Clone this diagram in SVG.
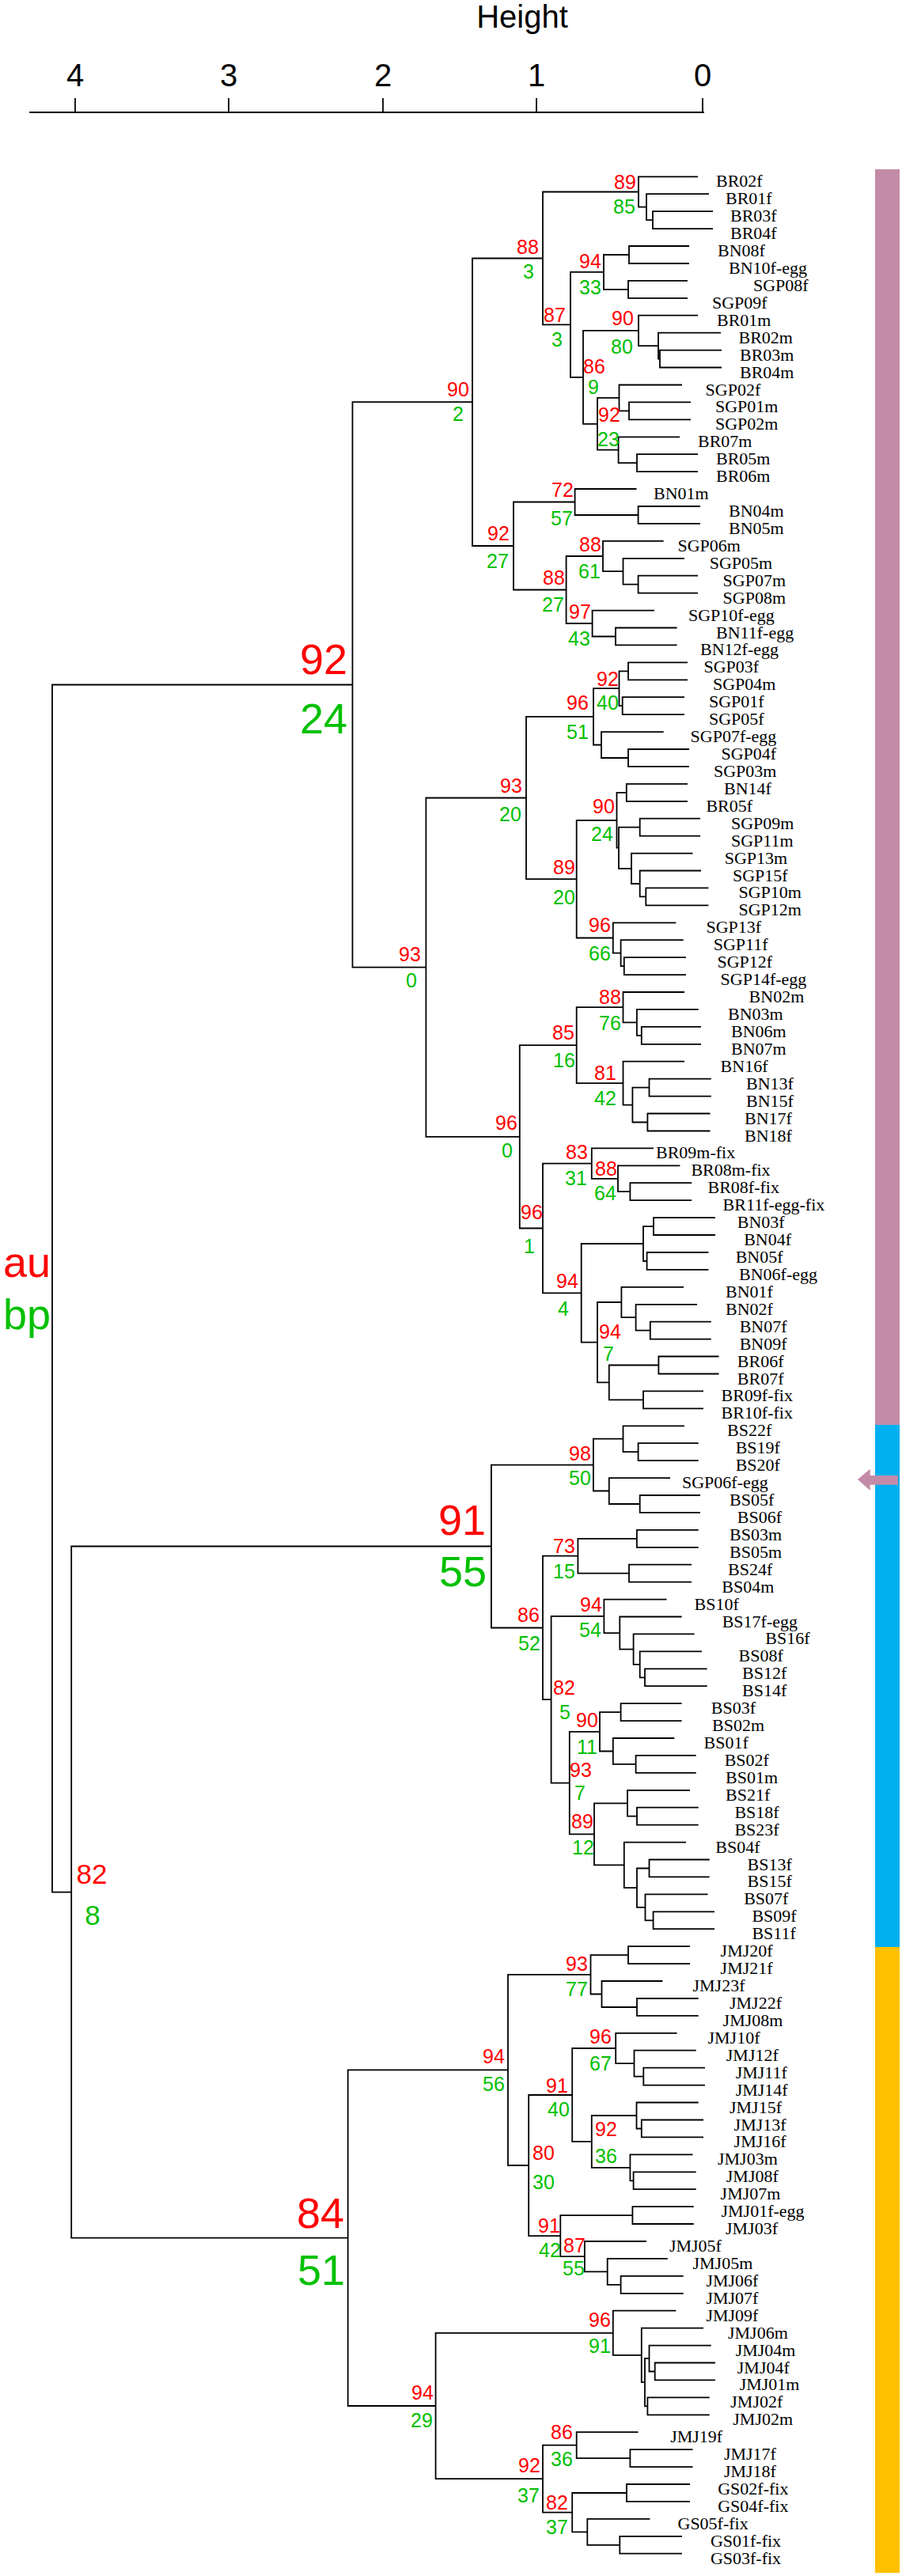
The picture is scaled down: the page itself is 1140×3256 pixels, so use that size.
<svg xmlns="http://www.w3.org/2000/svg" width="1140" height="3256" viewBox="0 0 1140 3256">
<style>
.e{fill:none;stroke:#000;stroke-width:1.8}
.lf{font-family:"Liberation Serif","Times New Roman",serif;font-size:22px;fill:#000}
.au{font-family:"Liberation Sans",Arial,sans-serif;font-size:25px;fill:#f00;text-anchor:middle}
.bp{font-family:"Liberation Sans",Arial,sans-serif;font-size:25px;fill:#00c000;text-anchor:middle}
.big{font-size:54px}
.mid{font-size:35px}
.ax{font-family:"Liberation Sans",Arial,sans-serif;font-size:40px;fill:#000;text-anchor:middle}
</style>
<rect width="1140" height="3256" fill="#fff"/>
<g id="axis">
<text class="ax" x="660" y="35">Height</text>
<path class="e" d="M37 142H890M95 124V142M289 124V142M484 124V142M678 124V142M888 124V142" stroke-width="2"/>
<text class="ax" x="95" y="109">4</text>
<text class="ax" x="289" y="109">3</text>
<text class="ax" x="484" y="109">2</text>
<text class="ax" x="678" y="109">1</text>
<text class="ax" x="888" y="109">0</text>
</g>
<g id="groups">
<rect x="1106" y="214" width="31" height="1587" fill="#c38ba8"/>
<rect x="1106" y="1801" width="31" height="660" fill="#00b0f0"/>
<rect x="1106" y="2461" width="31" height="791" fill="#ffc000"/>
<polygon points="1084,1870 1099.7,1856.7 1099.7,1865 1135,1865 1135,1876.7 1099.7,1876.7 1099.7,1884" fill="#c38ba8"/>
</g>
<g id="legend">
<text class="au" x="4" y="1614" style="text-anchor:start;font-size:54px">au</text>
<text class="bp" x="4" y="1680" style="text-anchor:start;font-size:54px">bp</text>
</g>
<g id="connectors">
<path class="e" d="M901 267.2H825V289.1H901"/>
<path class="e" d="M896 245.2H817V278.2H825"/>
<path class="e" d="M882 223.3H807V261.7H817"/>
<path class="e" d="M871 311H795V333H871"/>
<path class="e" d="M869 354.9H794V376.8H869"/>
<path class="e" d="M795 322H763V365.9H794"/>
<path class="e" d="M912 442.6H834V464.5H912"/>
<path class="e" d="M911 420.7H832V453.6H834"/>
<path class="e" d="M882 398.7H807V437.1H832"/>
<path class="e" d="M873 508.4H795V530.3H873"/>
<path class="e" d="M862 486.5H782.5V519.4H795"/>
<path class="e" d="M882 574.2H805V596.1H882"/>
<path class="e" d="M859 552.3H781.6V585.2H805"/>
<path class="e" d="M782.5 502.9H755V568.7H781.6"/>
<path class="e" d="M807 417.9H737V535.8H755"/>
<path class="e" d="M763 343.9H721V476.9H737"/>
<path class="e" d="M807 242.5H686V410.4H721"/>
<path class="e" d="M885 640H806.6V661.9H885"/>
<path class="e" d="M804.5 618H726.6V651H806.6"/>
<path class="e" d="M882 727.7H806.6V749.6H882"/>
<path class="e" d="M865 705.8H787.5V738.7H806.6"/>
<path class="e" d="M838.7 683.8H762V722.2H787.5"/>
<path class="e" d="M855.6 793.5H778V815.4H855.6"/>
<path class="e" d="M827 771.6H748.6V804.5H778"/>
<path class="e" d="M762 703H715.6V788H748.6"/>
<path class="e" d="M726.6 634.5H649V745.5H715.6"/>
<path class="e" d="M686 326.5H597V690H649"/>
<path class="e" d="M869 837.3H794V859.3H869"/>
<path class="e" d="M865 881.2H786.7V903.1H865"/>
<path class="e" d="M794 848.3H782.5V892.2H786.7"/>
<path class="e" d="M871 947H794V968.9H871"/>
<path class="e" d="M838.7 925.1H760V958H794"/>
<path class="e" d="M782.5 870.2H750V941.5H760"/>
<path class="e" d="M869 990.9H791.8V1012.8H869"/>
<path class="e" d="M885 1034.7H808.7V1056.6H885"/>
<path class="e" d="M895.4 1122.4H816.3V1144.4H895.4"/>
<path class="e" d="M886 1100.5H808.7V1133.4H816.3"/>
<path class="e" d="M875.5 1078.6H798V1117H808.7"/>
<path class="e" d="M808.7 1045.7H782V1097.8H798"/>
<path class="e" d="M791.8 1001.9H779.5V1071.7H782"/>
<path class="e" d="M867 1210.2H788.8V1232.1H867"/>
<path class="e" d="M863.7 1188.2H784.6V1221.2H788.8"/>
<path class="e" d="M854.4 1166.3H774.8V1204.7H784.6"/>
<path class="e" d="M779.5 1036.8H728.7V1185.5H774.8"/>
<path class="e" d="M750 905.9H665V1111.2H728.7"/>
<path class="e" d="M886 1297.9H810.8V1319.8H886"/>
<path class="e" d="M882.7 1275.9H804.9V1308.9H810.8"/>
<path class="e" d="M865 1254H787.5V1292.4H804.9"/>
<path class="e" d="M898.8 1363.7H820.5V1385.6H898.8"/>
<path class="e" d="M897.5 1407.5H818.4V1429.5H897.5"/>
<path class="e" d="M820.5 1374.7H799.4V1418.5H818.4"/>
<path class="e" d="M865 1341.7H787.5V1396.6H799.4"/>
<path class="e" d="M787.5 1273.2H728.7V1369.2H787.5"/>
<path class="e" d="M874.2 1495.2H796.4V1517.2H874.2"/>
<path class="e" d="M859.4 1473.3H781V1506.2H796.4"/>
<path class="e" d="M826 1451.4H747.8V1489.8H781"/>
<path class="e" d="M903.9 1539.1H826V1561H903.9"/>
<path class="e" d="M895.4 1583H817.6V1604.9H895.4"/>
<path class="e" d="M826 1550.1H813V1594H817.6"/>
<path class="e" d="M898.8 1670.7H821.8V1692.6H898.8"/>
<path class="e" d="M881 1648.8H803.6V1681.7H821.8"/>
<path class="e" d="M864 1626.8H785.4V1665.2H803.6"/>
<path class="e" d="M908.5 1714.5H832.4V1736.5H908.5"/>
<path class="e" d="M889 1758.4H813V1780.3H889"/>
<path class="e" d="M832.4 1725.5H769.8V1769.4H813"/>
<path class="e" d="M785.4 1646H755V1747.4H769.8"/>
<path class="e" d="M813 1572H734.7V1696.7H755"/>
<path class="e" d="M747.8 1470.6H686V1634.4H734.7"/>
<path class="e" d="M728.7 1321.2H656.8V1552.5H686"/>
<path class="e" d="M665 1008.5H538.4V1436.9H656.8"/>
<path class="e" d="M597 508.2H445.5V1222.7H538.4"/>
<path class="e" d="M882.7 1824.2H806.6V1846.1H882.7"/>
<path class="e" d="M865 1802.3H787.5V1835.2H806.6"/>
<path class="e" d="M885 1890H808.7V1911.9H885"/>
<path class="e" d="M847 1868.1H769.8V1901H808.7"/>
<path class="e" d="M787.5 1818.7H749.9V1884.5H769.8"/>
<path class="e" d="M882.7 1933.8H804.9V1955.8H882.7"/>
<path class="e" d="M874 1977.7H795V1999.6H874"/>
<path class="e" d="M804.9 1944.8H730.4V1988.7H795"/>
<path class="e" d="M893.7 2109.3H815V2131.2H893.7"/>
<path class="e" d="M887 2087.4H808.7V2120.3H815"/>
<path class="e" d="M877.6 2065.4H800.6V2103.8H808.7"/>
<path class="e" d="M861.6 2043.5H783.3V2084.6H800.6"/>
<path class="e" d="M842.5 2021.6H763.4V2064.1H783.3"/>
<path class="e" d="M861.6 2153.1H784.6V2175.1H861.6"/>
<path class="e" d="M879.7 2218.9H803.6V2240.9H879.7"/>
<path class="e" d="M852.3 2197H774.8V2229.9H803.6"/>
<path class="e" d="M784.6 2164.1H758V2213.5H774.8"/>
<path class="e" d="M882.7 2284.7H805V2306.7H882.7"/>
<path class="e" d="M872 2262.8H793V2295.7H805"/>
<path class="e" d="M896.7 2350.5H820.5V2372.4H896.7"/>
<path class="e" d="M903 2416.3H825.6V2438.2H903"/>
<path class="e" d="M894.5 2394.4H815.5V2427.3H825.6"/>
<path class="e" d="M820.5 2361.5H805V2410.8H815.5"/>
<path class="e" d="M867 2328.6H788.8V2386.1H805"/>
<path class="e" d="M793 2279.3H751V2357.4H788.8"/>
<path class="e" d="M758 2188.8H719.8V2318.3H751"/>
<path class="e" d="M763.4 2042.8H696.6V2253.6H719.8"/>
<path class="e" d="M730.4 1966.7H686V2148.2H696.6"/>
<path class="e" d="M749.9 1851.6H620.9V2057.5H686"/>
<path class="e" d="M872 2460.2H794V2482.1H872"/>
<path class="e" d="M882.7 2526H805V2547.9H882.7"/>
<path class="e" d="M837.4 2504H760.5V2537H805"/>
<path class="e" d="M794 2471.2H746.5V2520.5H760.5"/>
<path class="e" d="M891 2613.7H813.3V2635.6H891"/>
<path class="e" d="M879.7 2591.7H801.5V2624.7H813.3"/>
<path class="e" d="M855.6 2569.8H778.2V2608.2H801.5"/>
<path class="e" d="M889 2679.5H810.8V2701.4H889"/>
<path class="e" d="M882.7 2657.5H804.5V2690.5H810.8"/>
<path class="e" d="M879.7 2745.3H800.6V2767.2H879.7"/>
<path class="e" d="M875.5 2723.3H796.4V2756.3H800.6"/>
<path class="e" d="M804.5 2674H747.8V2739.8H796.4"/>
<path class="e" d="M778.2 2589H723.2V2706.9H747.8"/>
<path class="e" d="M876.8 2789.1H799.4V2811H876.8"/>
<path class="e" d="M863.7 2876.8H784.6V2898.8H863.7"/>
<path class="e" d="M843.8 2854.9H767.7V2887.8H784.6"/>
<path class="e" d="M817 2833H738.9V2871.4H767.7"/>
<path class="e" d="M799.4 2800.1H708.3V2852.2H738.9"/>
<path class="e" d="M723.2 2648H668.2V2826.1H708.3"/>
<path class="e" d="M746.5 2495.8H642V2737H668.2"/>
<path class="e" d="M903.9 2986.5H827.7V3008.4H903.9"/>
<path class="e" d="M898.8 2964.6H820.5V2997.5H827.7"/>
<path class="e" d="M896.7 3030.3H818.4V3052.3H896.7"/>
<path class="e" d="M820.5 2981H815V3041.3H818.4"/>
<path class="e" d="M889 2942.6H810.8V3011.2H815"/>
<path class="e" d="M854.4 2920.7H774.8V2976.9H810.8"/>
<path class="e" d="M875.5 3096.1H796.4V3118.1H875.5"/>
<path class="e" d="M806.6 3074.2H728.7V3107.1H796.4"/>
<path class="e" d="M872 3140H792V3161.9H872"/>
<path class="e" d="M862 3205.8H783.3V3227.7H862"/>
<path class="e" d="M821.4 3183.9H742.3V3216.8H783.3"/>
<path class="e" d="M792 3151H723.2V3200.3H742.3"/>
<path class="e" d="M728.7 3090.7H686V3175.6H723.2"/>
<path class="e" d="M774.8 2948.8H550.6V3133.1H686"/>
<path class="e" d="M642 2616.4H439.7V3041H550.6"/>
<path class="e" d="M620.9 1954.5H90.2V2828.7H439.7"/>
<path class="e" d="M445.5 865.5H66V2391.6H90.2"/>
</g>
<g id="support">
<text class="au" x="790" y="239">89</text><text class="bp" x="789" y="270">85</text>
<text class="au" x="667" y="321">88</text><text class="bp" x="668" y="352">3</text>
<text class="au" x="746" y="339">94</text><text class="bp" x="746" y="372">33</text>
<text class="au" x="701" y="407">87</text><text class="bp" x="704" y="438">3</text>
<text class="au" x="787" y="411">90</text><text class="bp" x="786" y="447">80</text>
<text class="au" x="751" y="472">86</text><text class="bp" x="750" y="498">9</text>
<text class="au" x="579" y="501">90</text><text class="bp" x="579" y="532">2</text>
<text class="au" x="770" y="533">92</text><text class="bp" x="769" y="564">23</text>
<text class="au" x="711" y="628">72</text><text class="bp" x="710" y="664">57</text>
<text class="au" x="630" y="683">92</text><text class="bp" x="629" y="718">27</text>
<text class="au" x="746" y="697">88</text><text class="bp" x="745" y="731">61</text>
<text class="au" x="700" y="739">88</text><text class="bp" x="699" y="773">27</text>
<text class="au" x="733" y="782">97</text><text class="bp" x="732" y="816">43</text>
<text class="au" x="768" y="867">92</text><text class="bp" x="768" y="897">40</text>
<text class="au" x="730" y="897">96</text><text class="bp" x="730" y="934">51</text>
<text class="au" x="646" y="1002">93</text><text class="bp" x="645" y="1038">20</text>
<text class="au" x="763" y="1028">90</text><text class="bp" x="761" y="1063">24</text>
<text class="au" x="713" y="1105">89</text><text class="bp" x="713" y="1143">20</text>
<text class="au" x="758" y="1178">96</text><text class="bp" x="758" y="1214">66</text>
<text class="au" x="518" y="1215">93</text><text class="bp" x="520" y="1248">0</text>
<text class="au" x="771" y="1269">88</text><text class="bp" x="771" y="1302">76</text>
<text class="au" x="712" y="1314">85</text><text class="bp" x="713" y="1349">16</text>
<text class="au" x="765" y="1365">81</text><text class="bp" x="765" y="1397">42</text>
<text class="au" x="640" y="1428">96</text><text class="bp" x="641" y="1463">0</text>
<text class="au" x="729" y="1465">83</text><text class="bp" x="728" y="1498">31</text>
<text class="au" x="766" y="1486">88</text><text class="bp" x="765" y="1517">64</text>
<text class="au" x="672" y="1541">96</text><text class="bp" x="669" y="1584">1</text>
<text class="au" x="717" y="1628">94</text><text class="bp" x="712" y="1663">4</text>
<text class="au" x="771" y="1692">94</text><text class="bp" x="769" y="1720">7</text>
<text class="au big" x="409" y="852">92</text><text class="bp big" x="409" y="927">24</text>
<text class="au" x="733" y="1846">98</text><text class="bp" x="733" y="1877">50</text>
<text class="au big" x="584" y="1940">91</text><text class="bp big" x="585" y="2005">55</text>
<text class="au" x="713" y="1963">73</text><text class="bp" x="713" y="1995">15</text>
<text class="au" x="668" y="2050">86</text><text class="bp" x="669" y="2086">52</text>
<text class="au" x="747" y="2037">94</text><text class="bp" x="746" y="2069">54</text>
<text class="au" x="713" y="2142">82</text><text class="bp" x="714" y="2173">5</text>
<text class="au" x="742" y="2183">90</text><text class="bp" x="742" y="2217">11</text>
<text class="au" x="734" y="2246">93</text><text class="bp" x="733" y="2275">7</text>
<text class="au" x="736" y="2311">89</text><text class="bp" x="737" y="2344">12</text>
<text class="au" x="729" y="2491">93</text><text class="bp" x="729" y="2523">77</text>
<text class="au" x="759" y="2583">96</text><text class="bp" x="759" y="2617">67</text>
<text class="au" x="624" y="2608">94</text><text class="bp" x="624" y="2643">56</text>
<text class="au" x="704" y="2645">91</text><text class="bp" x="706" y="2675">40</text>
<text class="au" x="766" y="2700">92</text><text class="bp" x="766" y="2734">36</text>
<text class="au" x="687" y="2730">80</text><text class="bp" x="687" y="2767">30</text>
<text class="au" x="694" y="2822">91</text><text class="bp" x="695" y="2853">42</text>
<text class="au" x="726" y="2847">87</text><text class="bp" x="725" y="2876">55</text>
<text class="au big" x="405" y="2816">84</text><text class="bp big" x="406" y="2888">51</text>
<text class="au" x="758" y="2941">96</text><text class="bp" x="758" y="2974">91</text>
<text class="au" x="534" y="3033">94</text><text class="bp" x="533" y="3068">29</text>
<text class="au" x="710" y="3083">86</text><text class="bp" x="710" y="3117">36</text>
<text class="au" x="669" y="3125">92</text><text class="bp" x="668" y="3163">37</text>
<text class="au" x="704" y="3172">82</text><text class="bp" x="704" y="3203">37</text>
<text class="au mid" x="116" y="2381">82</text><text class="bp mid" x="117" y="2433">8</text>
</g>
<g id="leaves" class="lf">
<text x="905" y="236.3">BR02f</text>
<text x="917" y="258.2">BR01f</text>
<text x="923" y="280.2">BR03f</text>
<text x="923" y="302.1">BR04f</text>
<text x="907" y="324">BN08f</text>
<text x="921" y="346">BN10f-egg</text>
<text x="952" y="367.9">SGP08f</text>
<text x="900" y="389.8">SGP09f</text>
<text x="906" y="411.7">BR01m</text>
<text x="933.5" y="433.7">BR02m</text>
<text x="935" y="455.6">BR03m</text>
<text x="935" y="477.5">BR04m</text>
<text x="891.6" y="499.5">SGP02f</text>
<text x="904" y="521.4">SGP01m</text>
<text x="904" y="543.3">SGP02m</text>
<text x="882" y="565.3">BR07m</text>
<text x="905" y="587.2">BR05m</text>
<text x="905" y="609.1">BR06m</text>
<text x="826" y="631">BN01m</text>
<text x="921" y="653">BN04m</text>
<text x="921" y="674.9">BN05m</text>
<text x="856.5" y="696.8">SGP06m</text>
<text x="896.7" y="718.8">SGP05m</text>
<text x="913.6" y="740.7">SGP07m</text>
<text x="913.6" y="762.6">SGP08m</text>
<text x="870" y="784.6">SGP10f-egg</text>
<text x="905" y="806.5">BN11f-egg</text>
<text x="885" y="828.4">BN12f-egg</text>
<text x="889.5" y="850.3">SGP03f</text>
<text x="901" y="872.3">SGP04m</text>
<text x="896" y="894.2">SGP01f</text>
<text x="896" y="916.1">SGP05f</text>
<text x="872.6" y="938.1">SGP07f-egg</text>
<text x="911.5" y="960">SGP04f</text>
<text x="902" y="981.9">SGP03m</text>
<text x="915" y="1003.9">BN14f</text>
<text x="892.4" y="1025.8">BR05f</text>
<text x="924" y="1047.7">SGP09m</text>
<text x="924" y="1069.6">SGP11m</text>
<text x="915.7" y="1091.6">SGP13m</text>
<text x="926" y="1113.5">SGP15f</text>
<text x="933.5" y="1135.4">SGP10m</text>
<text x="933.5" y="1157.4">SGP12m</text>
<text x="892.4" y="1179.3">SGP13f</text>
<text x="901.7" y="1201.2">SGP11f</text>
<text x="906.4" y="1223.2">SGP12f</text>
<text x="910.6" y="1245.1">SGP14f-egg</text>
<text x="946.6" y="1267">BN02m</text>
<text x="920" y="1288.9">BN03m</text>
<text x="924" y="1310.9">BN06m</text>
<text x="924" y="1332.8">BN07m</text>
<text x="910.6" y="1354.7">BN16f</text>
<text x="943" y="1376.7">BN13f</text>
<text x="943" y="1398.6">BN15f</text>
<text x="941" y="1420.5">BN17f</text>
<text x="941" y="1442.5">BN18f</text>
<text x="829" y="1464.4">BR09m-fix</text>
<text x="873.4" y="1486.3">BR08m-fix</text>
<text x="894.5" y="1508.2">BR08f-fix</text>
<text x="913.6" y="1530.2">BR11f-egg-fix</text>
<text x="931.8" y="1552.1">BN03f</text>
<text x="940.2" y="1574">BN04f</text>
<text x="929.7" y="1596">BN05f</text>
<text x="934" y="1617.9">BN06f-egg</text>
<text x="917" y="1639.8">BN01f</text>
<text x="917" y="1661.8">BN02f</text>
<text x="934.7" y="1683.7">BN07f</text>
<text x="934.7" y="1705.6">BN09f</text>
<text x="931.8" y="1727.5">BR06f</text>
<text x="931.8" y="1749.5">BR07f</text>
<text x="911.5" y="1771.4">BR09f-fix</text>
<text x="911.5" y="1793.3">BR10f-fix</text>
<text x="919" y="1815.3">BS22f</text>
<text x="929.7" y="1837.2">BS19f</text>
<text x="929.7" y="1859.1">BS20f</text>
<text x="862" y="1881.1">SGP06f-egg</text>
<text x="922" y="1903">BS05f</text>
<text x="931.8" y="1924.9">BS06f</text>
<text x="922" y="1946.8">BS03m</text>
<text x="922" y="1968.8">BS05m</text>
<text x="920" y="1990.7">BS24f</text>
<text x="912.3" y="2012.6">BS04m</text>
<text x="877.6" y="2034.6">BS10f</text>
<text x="912.7" y="2056.5">BS17f-egg</text>
<text x="967.3" y="2078.4">BS16f</text>
<text x="933.5" y="2100.4">BS08f</text>
<text x="938" y="2122.3">BS12f</text>
<text x="938" y="2144.2">BS14f</text>
<text x="898.8" y="2166.1">BS03f</text>
<text x="900" y="2188.1">BS02m</text>
<text x="889.5" y="2210">BS01f</text>
<text x="915.7" y="2231.9">BS02f</text>
<text x="917" y="2253.9">BS01m</text>
<text x="917" y="2275.8">BS21f</text>
<text x="928.4" y="2297.7">BS18f</text>
<text x="928.4" y="2319.7">BS23f</text>
<text x="904.3" y="2341.6">BS04f</text>
<text x="944.5" y="2363.5">BS13f</text>
<text x="944.5" y="2385.4">BS15f</text>
<text x="940.2" y="2407.4">BS07f</text>
<text x="950.4" y="2429.3">BS09f</text>
<text x="950.4" y="2451.2">BS11f</text>
<text x="910.6" y="2473.2">JMJ20f</text>
<text x="910.6" y="2495.1">JMJ21f</text>
<text x="875.5" y="2517">JMJ23f</text>
<text x="922" y="2539">JMJ22f</text>
<text x="913.6" y="2560.9">JMJ08m</text>
<text x="894.5" y="2582.8">JMJ10f</text>
<text x="917.8" y="2604.7">JMJ12f</text>
<text x="929.7" y="2626.7">JMJ11f</text>
<text x="929.7" y="2648.6">JMJ14f</text>
<text x="922" y="2670.5">JMJ15f</text>
<text x="927.6" y="2692.5">JMJ13f</text>
<text x="927.6" y="2714.4">JMJ16f</text>
<text x="907" y="2736.3">JMJ03m</text>
<text x="917.8" y="2758.3">JMJ08f</text>
<text x="910.6" y="2780.2">JMJ07m</text>
<text x="911.5" y="2802.1">JMJ01f-egg</text>
<text x="917" y="2824">JMJ03f</text>
<text x="845.9" y="2846">JMJ05f</text>
<text x="875.5" y="2867.9">JMJ05m</text>
<text x="892.4" y="2889.8">JMJ06f</text>
<text x="892.4" y="2911.8">JMJ07f</text>
<text x="892.4" y="2933.7">JMJ09f</text>
<text x="920" y="2955.6">JMJ06m</text>
<text x="929.7" y="2977.6">JMJ04m</text>
<text x="931.8" y="2999.5">JMJ04f</text>
<text x="934.7" y="3021.4">JMJ01m</text>
<text x="923.3" y="3043.3">JMJ02f</text>
<text x="926.3" y="3065.3">JMJ02m</text>
<text x="847.2" y="3087.2">JMJ19f</text>
<text x="914.9" y="3109.1">JMJ17f</text>
<text x="914.9" y="3131.1">JMJ18f</text>
<text x="907.2" y="3153">GS02f-fix</text>
<text x="907.2" y="3174.9">GS04f-fix</text>
<text x="856.5" y="3196.9">GS05f-fix</text>
<text x="897.9" y="3218.8">GS01f-fix</text>
<text x="897.9" y="3240.7">GS03f-fix</text>
</g>
</svg>
